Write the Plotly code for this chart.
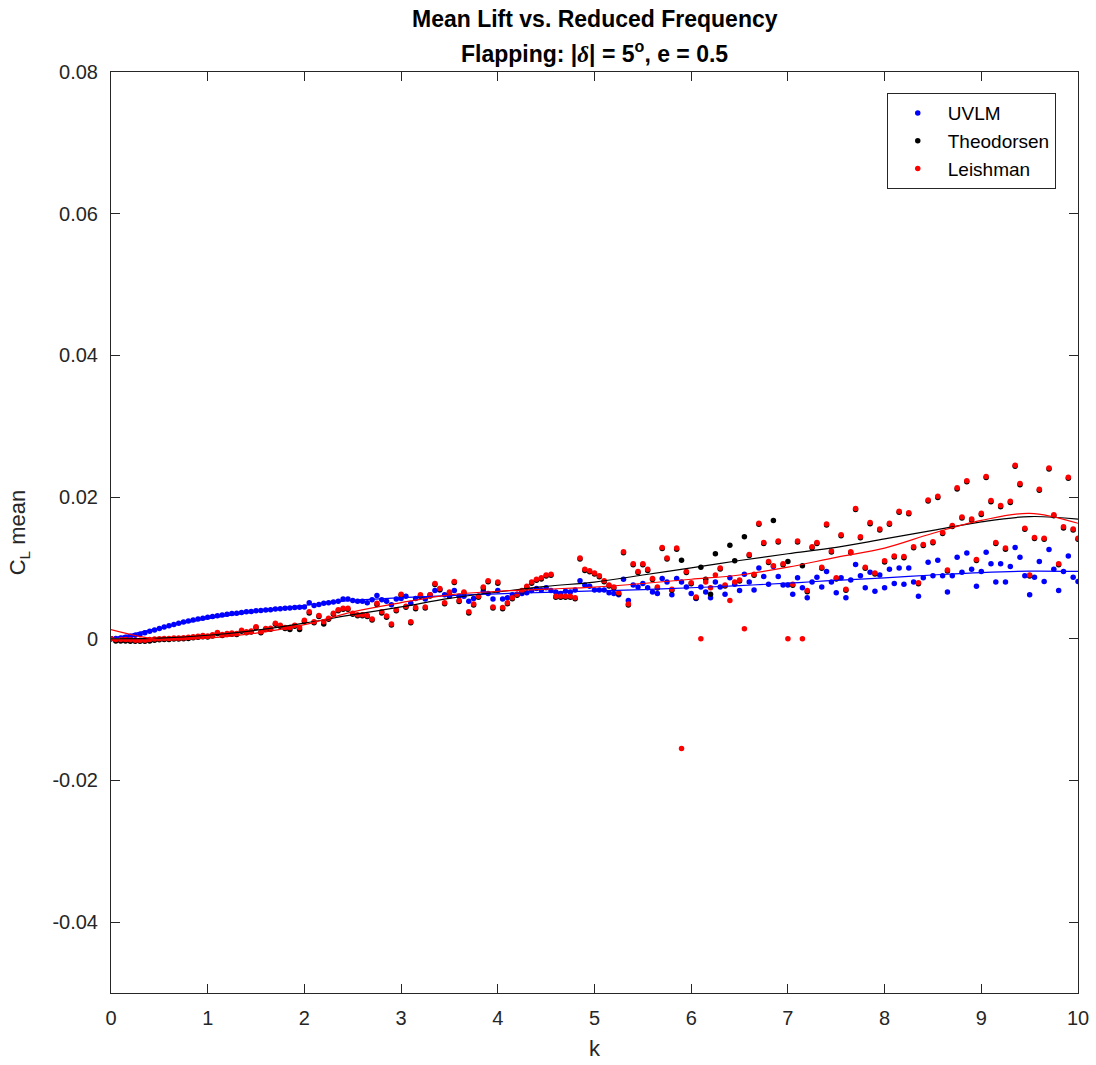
import plotly.graph_objects as go

# reduced frequency grid (0 to 10, step 0.05)
k = [i / 20 for i in range(201)]

# Mean lift coefficient values, in units of 1e-3
uvlm_milli = [
    0.0, 0.05, 0.1, 0.2, 0.35, 0.5, 0.65, 0.85, 1.05, 1.25,
    1.45, 1.65, 1.85, 2.0, 2.2, 2.35, 2.5, 2.65, 2.8, 2.9,
    3.05, 3.15, 3.25, 3.35, 3.45, 3.55, 3.6, 3.7, 3.8, 3.85,
    3.95, 4.0, 4.05, 4.1, 4.2, 4.25, 4.3, 4.35, 4.4, 4.45,
    4.5, 5.1, 4.7, 4.85, 5.0, 5.1, 5.2, 5.3, 5.6, 5.6,
    5.4, 5.3, 5.3, 5.1, 5.5, 6.1, 5.5, 5.3, 4.8, 5.6,
    5.7, 6.0, 5.0, 5.7, 6.0, 5.6, 6.2, 6.8, 6.9, 6.2,
    6.0, 6.8, 6.0, 6.0, 5.3, 5.7, 6.0, 6.7, 6.4, 5.6,
    6.8, 5.6, 5.8, 6.2, 6.3, 6.4, 6.5, 6.8, 7.1, 6.9,
    7.2, 6.8, 6.6, 6.4, 6.7, 6.6, 6.9, 8.2, 7.6, 7.4,
    6.9, 6.9, 6.9, 6.5, 6.4, 6.2, 8.4, 5.4, 7.6, 7.3,
    7.8, 7.2, 6.6, 6.4, 8.5, 8.0, 6.2, 8.5, 8.0, 7.3,
    6.4, 5.7, 7.3, 6.6, 5.8, 8.0, 7.3, 6.3, 8.6, 7.7,
    6.8, 9.1, 8.0, 6.9, 10.0, 8.8, 7.7, 10.2, 8.8, 7.6,
    7.6, 6.3, 8.6, 7.2, 5.8, 8.0, 8.7, 7.3, 9.5, 8.0,
    6.5, 8.6, 5.8, 8.3, 10.5, 8.9, 7.2, 9.4, 6.7, 9.0,
    7.2, 9.8, 7.8, 10.0, 7.7, 10.0, 8.0, 6.0, 8.6, 10.8,
    8.9, 11.1, 8.9, 6.6, 8.9, 11.5, 9.4, 12.1, 9.8, 7.4,
    9.5, 12.2, 10.6, 8.0, 10.6, 8.0, 10.2, 12.9, 11.5, 8.9,
    6.2, 8.7, 10.9, 8.1, 12.6, 9.8, 6.8, 9.5, 11.7, 8.7,
    8.1,
]

theodorsen_milli = [
    0.0, -0.3, -0.3, -0.3, -0.35, -0.35, -0.35, -0.35, -0.3, -0.2,
    -0.15, -0.1, -0.1, -0.05, -0.05, 0.0, 0.05, 0.15, 0.2, 0.3,
    0.25, 0.4, 0.75, 0.45, 0.6, 0.65, 0.6, 1.05, 0.85, 0.95,
    1.55, 0.85, 1.3, 1.35, 2.05, 1.75, 1.45, 1.3, 1.75, 1.3,
    2.45, 3.65, 2.25, 3.15, 2.1, 2.75, 3.45, 3.95, 4.15, 4.15,
    3.45, 3.25, 3.25, 3.15, 2.65, 4.85, 3.65, 3.05, 1.95, 3.95,
    6.15, 4.45, 2.25, 4.25, 6.05, 4.35, 6.05, 7.65, 6.95, 4.95,
    6.45, 7.95, 5.25, 6.45, 3.65, 4.75, 5.85, 7.15, 8.05, 4.35,
    7.85, 4.25, 4.95, 5.65, 6.15, 6.65, 7.25, 7.85, 8.25, 8.45,
    8.85, 8.95, 5.85, 5.85, 5.85, 5.85, 5.65, 11.25, 9.65, 9.45,
    9.15, 8.75, 8.05, 7.45, 7.15, 6.35, 12.15, 4.75, 10.45, 9.35,
    10.45, 9.65, 8.35, 7.15, 12.75, 11.25, 6.85, 12.65, 11.1, 9.35,
    7.75, 5.75, 10.1, 8.4, 6.3, 12.0, 9.85, 7.45, 13.2, 11.0,
    8.15, 14.4, 11.75, 8.95, 16.15, 13.45, 10.75, 16.7, 13.65, 10.45,
    10.9, 7.55, 13.65, 10.3, 6.65, 12.85, 13.45, 9.95, 16.05, 12.25,
    8.45, 14.55, 6.85, 12.15, 18.25, 14.25, 9.95, 16.25, 9.15, 15.35,
    10.85, 16.15, 11.55, 17.85, 11.45, 17.65, 12.85, 7.75, 13.15, 19.45,
    13.55, 19.95, 14.85, 9.55, 15.85, 21.15, 17.05, 22.15, 16.75, 11.05,
    17.55, 22.75, 19.35, 13.45, 18.65, 12.65, 19.25, 24.35, 21.75, 15.45,
    8.85, 14.15, 20.95, 14.05, 23.95, 17.35, 10.45, 15.65, 22.65, 15.35,
    14.05,
]

leishman_milli = [
    0.0, -0.1, -0.1, -0.1, -0.15, -0.2, -0.2, -0.2, -0.1, -0.05,
    0.0, 0.05, 0.05, 0.1, 0.1, 0.15, 0.2, 0.3, 0.35, 0.45,
    0.4, 0.55, 0.9, 0.6, 0.75, 0.8, 0.75, 1.2, 1.0, 1.1,
    1.7, 1.0, 1.45, 1.5, 2.2, 1.9, 1.6, 1.6, 1.9, 1.6,
    2.6, 3.8, 2.4, 3.3, 2.4, 2.9, 3.6, 4.1, 4.3, 4.3,
    3.6, 3.4, 3.4, 3.3, 2.8, 5.0, 3.8, 3.2, 2.1, 4.1,
    6.3, 4.6, 2.4, 4.4, 6.2, 4.5, 6.2, 7.8, 7.1, 5.1,
    6.6, 8.1, 5.4, 6.6, 3.8, 4.9, 6.0, 7.3, 8.2, 4.5,
    8.0, 4.4, 5.1, 5.8, 6.3, 6.8, 7.4, 8.0, 8.4, 8.6,
    9.0, 9.1, 6.0, 6.0, 6.0, 6.0, 5.8, 11.4, 9.8, 9.6,
    9.3, 8.9, 8.2, 7.6, 7.3, 6.5, 12.3, 4.9, 10.6, 9.5,
    10.6, 9.8, 8.5, 7.3, 12.9, 11.4, 7.0, 12.8, -15.5, 9.5,
    7.9, 5.9, 0.0, 8.0, 7.2, 9.0, 10.0, 7.6, 5.4, 8.0,
    8.3, 1.4, 11.9, 9.1, 16.3, 13.6, 10.9, 10.3, 13.8, 10.6,
    0.0, 7.7, 13.8, 0.0, 6.8, 13.0, 13.6, 10.1, 16.2, 12.4,
    8.6, 14.7, 7.0, 12.3, 18.4, 14.4, 10.1, 16.4, 9.3, 15.5,
    11.0, 16.3, 11.7, 18.0, 11.6, 17.8, 13.0, 7.9, 13.3, 19.6,
    13.7, 20.1, 15.0, 9.7, 16.0, 21.3, 17.2, 22.3, 16.9, 11.2,
    17.7, 22.9, 19.5, 13.6, 18.8, 12.8, 19.4, 24.5, 21.9, 15.6,
    9.0, 14.3, 21.1, 14.2, 24.1, 17.5, 10.6, 15.8, 22.8, 15.5,
    14.2,
]

# fitted trend curves (read at k = 0, 0.5, ..., 10), units of 1e-3
fit_k = [0, 0.5, 1, 1.5, 2, 2.5, 3, 3.5, 4, 4.5, 5,
         5.5, 6, 6.5, 7, 7.5, 8, 8.5, 9, 9.5, 10]
uvlm_fit_milli = [0.0, 1.5, 2.85, 3.85, 4.7, 5.4, 5.8, 6.1, 6.35, 6.55, 6.75,
                  6.95, 7.2, 7.5, 7.85, 8.25, 8.6, 9.0, 9.35, 9.55, 9.5]
theo_fit_milli = [0.0, 0.1, 0.5, 1.2, 2.2, 3.4, 4.5, 5.7, 6.6, 7.4, 8.0,
                  9.0, 10.0, 11.05, 12.0, 12.9, 14.1, 15.3, 16.5, 17.25, 16.9]
leish_fit_milli = [1.3, -0.1, 0.1, 0.8, 2.0, 3.8, 5.1, 6.2, 6.7, 7.0, 7.3,
                   7.8, 8.4, 9.0, 10.1, 11.5, 12.8, 14.9, 16.7, 17.7, 16.3]

names = ["UVLM", "Theodorsen", "Leishman"]
colors = ["#0000FF", "#000000", "#FF0000"]

title_line1 = "Mean Lift vs. Reduced Frequency"
title_line2 = ("Flapping: |<span style=\"font-family:'Liberation Serif', 'Times New Roman', serif\">"
               "<i>δ</i></span>| = 5<sup>o</sup>, e = 0.5")


def to_units(vals):
    return [v / 1000 for v in vals]


series = [uvlm_milli, theodorsen_milli, leishman_milli]
fits = [uvlm_fit_milli, theo_fit_milli, leish_fit_milli]

fig = go.Figure()
for name, col, vals in zip(names, colors, series):
    fig.add_trace(go.Scatter(
        x=k, y=to_units(vals), mode="markers", name=name,
        marker=dict(color=col, size=5.5, line=dict(width=0)),
    ))
for col, vals in zip(colors, fits):
    fig.add_trace(go.Scatter(
        x=fit_k, y=to_units(vals), mode="lines", showlegend=False,
        line=dict(color=col, width=1.2, shape="spline", smoothing=1.0),
        hoverinfo="skip",
    ))

FONT = "Liberation Sans, Arial, Helvetica, sans-serif"
AX = "#262626"

y_ticks = [-0.04, -0.02, 0, 0.02, 0.04, 0.06, 0.08]
y_ticktext = ["-0.04", "-0.02", "0", "0.02", "0.04", "0.06", "0.08"]
x_ticks = [0, 1, 2, 3, 4, 5, 6, 7, 8, 9, 10]

fig.update_layout(
    width=1096, height=1065,
    margin=dict(l=111, r=18, t=72, b=72, autoexpand=False),
    paper_bgcolor="white", plot_bgcolor="white",
    font=dict(family=FONT, color=AX),
    xaxis=dict(
        range=[0, 10], tickvals=x_ticks, ticktext=[str(v) for v in x_ticks],
        showline=True, linecolor=AX, linewidth=1, mirror="ticks",
        ticks="inside", ticklen=9, tickwidth=1, tickcolor=AX,
        showgrid=False, zeroline=False, ticklabelstandoff=7,
        tickfont=dict(family=FONT, size=20, color=AX),
        title=dict(text="k", font=dict(family=FONT, size=22, color=AX), standoff=12),
    ),
    yaxis=dict(
        range=[-0.05, 0.08], tickvals=y_ticks, ticktext=y_ticktext,
        showline=True, linecolor=AX, linewidth=1, mirror="ticks",
        ticks="inside", ticklen=9, tickwidth=1, tickcolor=AX,
        showgrid=False, zeroline=False, ticklabelstandoff=8,
        tickfont=dict(family=FONT, size=20, color=AX),
        title=dict(text="C<sub>L</sub> mean", font=dict(family=FONT, size=22, color=AX),
                   standoff=20),
    ),
    legend=dict(
        x=0.977, xanchor="right", y=0.977, yanchor="top",
        bgcolor="white", bordercolor=AX, borderwidth=1,
        font=dict(family=FONT, size=19, color="#000000"),
        itemwidth=50, tracegroupgap=0,
    ),
    showlegend=True,
    annotations=[
        dict(text="<b>" + title_line1 + "</b>", x=0.5, xref="paper", xanchor="center",
             y=1.0575, yref="paper", yanchor="middle", showarrow=False,
             font=dict(family=FONT, size=23, color="#000000")),
        dict(text="<b>" + title_line2 + "</b>", x=0.5, xref="paper", xanchor="center",
             y=1.0212, yref="paper", yanchor="middle", showarrow=False,
             font=dict(family=FONT, size=23, color="#000000")),
    ],
)

fig.write_html("out.html", config={"displayModeBar": False},
               post_script="document.body.style.margin='0px';")
